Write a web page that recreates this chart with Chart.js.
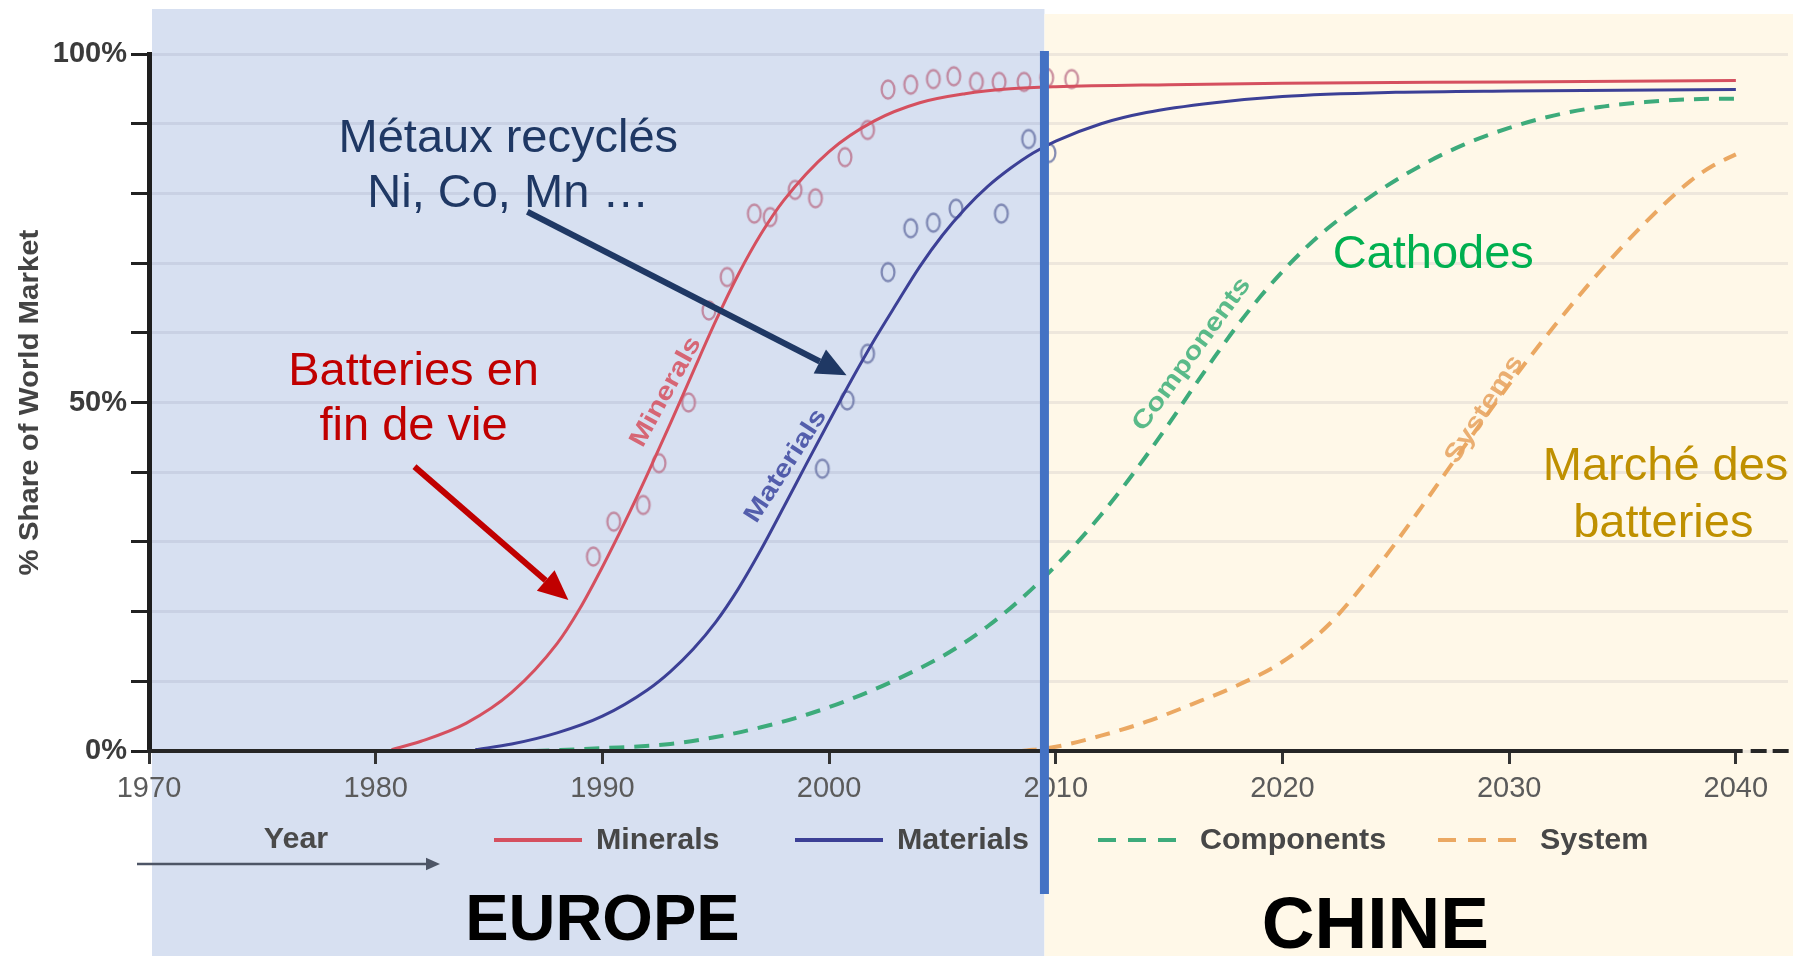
<!DOCTYPE html>
<html>
<head>
<meta charset="utf-8">
<script src="https://cdn.jsdelivr.net/npm/chart.js@4.4.1/dist/chart.umd.min.js"></script>
<style>
  html, body { margin: 0; padding: 0; background: #fff; }
  #wrap { position: relative; width: 1793px; height: 956px; }
</style>
</head>
<body>
<div id="wrap"><canvas id="chart"></canvas></div>
<script>
const FONT = '"Liberation Sans", Arial, Helvetica, sans-serif'

// axis ticks
const yearTicks = [1970, 1980, 1990, 2000, 2010, 2020, 2030, 2040]
const shareTicks = [0, 10, 20, 30, 40, 50, 60, 70, 80, 90, 100]
const shareTickLabels = ['0%', '', '', '', '', '50%', '', '', '', '', '100%']

// S-curves, % share of world market
const mineralsYears = [1980.7, 1982, 1984, 1986, 1988, 1989, 1990, 1991, 1992, 1993, 1994, 1995, 1996, 1997, 1998, 2000, 2002, 2004, 2006, 2008, 2010, 2015, 2020, 2030, 2040]
const mineralsShare = [0.2, 1.4, 4.0, 8.4, 15.4, 20.4, 26.4, 32.9, 39.8, 47.0, 54.4, 61.7, 68.4, 74.2, 79.0, 86.0, 90.4, 93.0, 94.3, 95.0, 95.3, 95.6, 95.8, 96.0, 96.2]

const materialsYears = [1984.4, 1986, 1988, 1990, 1992, 1993, 1994, 1995, 1996, 1997, 1998, 1999, 2000, 2001, 2002, 2003, 2004, 2005, 2006, 2007, 2008, 2009, 2010, 2012, 2014, 2017, 2020, 2025, 2030, 2040]
const materialsShare = [0.2, 1.0, 2.6, 5.0, 8.8, 11.4, 14.6, 18.5, 23.3, 28.9, 35.0, 41.2, 47.3, 53.3, 59.0, 64.3, 69.5, 74.0, 77.8, 81.0, 83.6, 85.8, 87.5, 90.0, 91.6, 93.0, 93.9, 94.5, 94.7, 94.9]

const componentsYears = [1987, 1990, 1993, 1995, 1997, 1999, 2001, 2003, 2005, 2006, 2007, 2008, 2009, 2010, 2011, 2012, 2013, 2014, 2015, 2016, 2017, 2018, 2019, 2020, 2021, 2022, 2024, 2026, 2028, 2030, 2032, 2034, 2036, 2038, 2040]
const componentsShare = [0.0, 0.4, 1.0, 2.0, 3.4, 5.2, 7.5, 10.3, 13.6, 15.6, 17.9, 20.5, 23.4, 26.6, 30.1, 33.9, 38.0, 42.4, 47.0, 51.8, 56.5, 61.0, 65.1, 68.8, 72.1, 75.0, 79.8, 83.8, 87.0, 89.4, 91.2, 92.4, 93.1, 93.5, 93.6]

const systemYears = [2008.5, 2010, 2012, 2014, 2016, 2018, 2020, 2022, 2024, 2026, 2028, 2030, 2032, 2034, 2036, 2038, 2039, 2040]
const systemShare = [0.0, 0.6, 2.2, 4.2, 6.7, 9.4, 12.8, 18.0, 25.6, 34.4, 43.6, 52.6, 61.0, 68.8, 75.8, 81.8, 84.0, 85.6]

// observed points (open circles)
const mineralsObsYears = [1989.6, 1990.5, 1991.8, 1992.5, 1993.8, 1994.7, 1995.5, 1996.7, 1997.4, 1998.5, 1999.4, 2000.7, 2001.7, 2002.6, 2003.6, 2004.6, 2005.5, 2006.5, 2007.5, 2008.6, 2009.6, 2010.7]
const mineralsObsShare = [27.9, 32.9, 35.3, 41.3, 50.0, 63.2, 68.0, 77.1, 76.6, 80.5, 79.3, 85.2, 89.1, 94.9, 95.6, 96.4, 96.8, 96.0, 96.0, 96.0, 96.6, 96.4]

const materialsObsYears = [1999.7, 2000.8, 2001.7, 2002.6, 2003.6, 2004.6, 2005.6, 2007.6, 2008.8, 2009.7]
const materialsObsShare = [40.5, 50.3, 57.0, 68.7, 75.0, 75.8, 77.8, 77.1, 87.8, 85.8]

const splitYear = 2009.5

const pts = (xs, ys) => xs.map((x, i) => ({ x, y: ys[i] }))

function ring(color) {
  const c = document.createElement('canvas')
  c.width = 18
  c.height = 23
  const g = c.getContext('2d')
  g.strokeStyle = color
  g.lineWidth = 2.3
  g.beginPath()
  g.ellipse(9, 11.5, 6.4, 9, 0, 0, Math.PI * 2)
  g.stroke()
  return c
}

function arrow(ctx, x1, y1, x2, y2, color, width, head) {
  const a = Math.atan2(y2 - y1, x2 - x1)
  const bx = x2 - head * Math.cos(a)
  const by = y2 - head * Math.sin(a)
  ctx.strokeStyle = color
  ctx.lineWidth = width
  ctx.beginPath()
  ctx.moveTo(x1, y1)
  ctx.lineTo(bx, by)
  ctx.stroke()
  ctx.fillStyle = color
  ctx.beginPath()
  ctx.moveTo(x2, y2)
  ctx.lineTo(bx + head * 0.45 * Math.sin(a), by - head * 0.45 * Math.cos(a))
  ctx.lineTo(bx - head * 0.45 * Math.sin(a), by + head * 0.45 * Math.cos(a))
  ctx.closePath()
  ctx.fill()
}

function label(ctx, str, x, y, font, color, align = 'center', angle = 0, baseline = 'alphabetic', stretch = 1) {
  ctx.save()
  ctx.translate(x, y)
  ctx.rotate(angle * Math.PI / 180)
  ctx.scale(stretch, 1)
  ctx.font = font
  ctx.fillStyle = color
  ctx.textAlign = align
  ctx.textBaseline = baseline
  ctx.fillText(str, 0, 0)
  ctx.restore()
}

const series = [
  { name: 'Minerals', color: '#D5505F', dash: [] },
  { name: 'Materials', color: '#3C4096', dash: [] },
  { name: 'Components', color: '#3DAB7B', dash: [15, 10] },
  { name: 'System', color: '#EBA862', dash: [15, 10] },
]

const panels = {
  id: 'panels',
  beforeDraw(chart) {
    const { ctx, chartArea, scales: { x } } = chart
    const split = x.getPixelForValue(splitYear)
    ctx.save()
    ctx.fillStyle = '#D7E0F1'
    ctx.fillRect(chartArea.left + 3, 9, split - chartArea.left - 3, chart.height - 9)
    ctx.fillStyle = '#FFF8E8'
    ctx.fillRect(split, 14, chart.width - split, chart.height - 14)
    ctx.restore()
  },
}

const overlay = {
  id: 'overlay',
  afterDraw(chart) {
    const { ctx, chartArea, scales: { x, y } } = chart
    const X = v => x.getPixelForValue(v)
    const Y = v => y.getPixelForValue(v)
    ctx.save()

    // x axis line, dashed past 2040
    ctx.strokeStyle = '#262626'
    ctx.lineWidth = 4
    ctx.beginPath()
    ctx.moveTo(chartArea.left - 2, Y(0))
    ctx.lineTo(X(2040.3), Y(0))
    ctx.stroke()
    ctx.setLineDash([16, 6])
    ctx.beginPath()
    ctx.moveTo(X(2040.3) + 8, Y(0))
    ctx.lineTo(chart.width, Y(0))
    ctx.stroke()
    ctx.setLineDash([])

    // split line
    ctx.strokeStyle = '#4472C4'
    ctx.lineWidth = 9
    ctx.beginPath()
    ctx.moveTo(X(splitYear), 51)
    ctx.lineTo(X(splitYear), 894)
    ctx.stroke()

    // y title
    label(ctx, '% Share of World Market', 30, (chartArea.top + chartArea.bottom) / 2,
      `bold 28px ${FONT}`, '#444', 'center', -90, 'middle', 1.05)

    // curve labels
    const cl = `bold 25px ${FONT}`
    label(ctx, 'Minerals', X(1992.8), Y(51.5), cl, 'rgba(214,80,95,0.85)', 'center', -61, 'middle', 1.2)
    label(ctx, 'Materials', X(1998.1), Y(40.9), cl, 'rgba(60,70,160,0.85)', 'center', -57, 'middle', 1.2)
    label(ctx, 'Components', X(2016.0), Y(56.9), cl, 'rgba(61,175,120,0.85)', 'center', -54, 'middle', 1.2)
    label(ctx, 'Systems', X(2028.9), Y(49.0), cl, 'rgba(232,165,100,0.9)', 'center', -57, 'middle', 1.2)

    // annotations
    const af = `47px ${FONT}`
    label(ctx, 'Métaux recyclés', X(1985.85), Y(86.0), af, '#1F3864')
    label(ctx, 'Ni, Co, Mn …', X(1985.85), Y(78.0), af, '#1F3864')
    label(ctx, 'Batteries en', X(1981.67), Y(52.5), af, '#C00000')
    label(ctx, 'fin de vie', X(1981.67), Y(44.6), af, '#C00000')
    label(ctx, 'Cathodes', X(2026.65), Y(69.3), af, '#00B050')
    label(ctx, 'Marché des', X(2036.9), Y(38.9), af, '#BF9000')
    label(ctx, 'batteries', X(2036.8), Y(30.7), af, '#BF9000')

    arrow(ctx, X(1986.69), Y(77.37), X(2000.77), Y(53.92), '#1F3864', 6, 30)
    arrow(ctx, X(1981.71), Y(40.8), X(1988.5), Y(21.65), '#C00000', 6, 30)

    // legend row
    const ly = 840
    const lf = `bold 29px ${FONT}`
    label(ctx, 'Year', 296, ly, lf, '#4a4a4a', 'center', 0, 'middle', 1.05)
    arrow(ctx, 137, 864, 440, 864, '#4d5566', 2.5, 14)
    const slots = [494, 795, 1098, 1438]
    series.forEach((s, i) => {
      ctx.strokeStyle = s.color
      ctx.lineWidth = 4
      ctx.setLineDash(s.dash.length ? [18, 12] : [])
      ctx.beginPath()
      ctx.moveTo(slots[i], ly)
      ctx.lineTo(slots[i] + 88, ly)
      ctx.stroke()
      ctx.setLineDash([])
      label(ctx, s.name, slots[i] + 102, ly + 1, lf, '#474747', 'left', 0, 'middle', 1.05)
    })

    // regions
    label(ctx, 'EUROPE', X(1990.0), 940, `bold 65px ${FONT}`, '#000')
    label(ctx, 'CHINE', X(2024.1), 948, `bold 73px ${FONT}`, '#000')

    ctx.restore()
  },
}

new Chart(document.getElementById('chart'), {
  type: 'line',
  data: {
    datasets: [
      {
        label: 'Minerals', data: pts(mineralsYears, mineralsShare),
        borderColor: series[0].color, borderWidth: 3, pointRadius: 0, cubicInterpolationMode: 'monotone',
      },
      {
        label: 'Materials', data: pts(materialsYears, materialsShare),
        borderColor: series[1].color, borderWidth: 3, pointRadius: 0, cubicInterpolationMode: 'monotone',
      },
      {
        label: 'Components', data: pts(componentsYears, componentsShare),
        borderColor: series[2].color, borderWidth: 4, borderDash: series[2].dash, pointRadius: 0, cubicInterpolationMode: 'monotone',
      },
      {
        label: 'System', data: pts(systemYears, systemShare),
        borderColor: series[3].color, borderWidth: 4, borderDash: series[3].dash, pointRadius: 0, cubicInterpolationMode: 'monotone',
      },
      {
        label: 'Minerals data', data: pts(mineralsObsYears, mineralsObsShare), showLine: false,
        pointStyle: ring('rgba(185,110,135,0.75)'),
      },
      {
        label: 'Materials data', data: pts(materialsObsYears, materialsObsShare), showLine: false,
        pointStyle: ring('rgba(105,115,165,0.8)'),
      },
    ],
  },
  options: {
    responsive: true,
    maintainAspectRatio: false,
    animation: false,
    layout: { padding: { top: 54, left: 0, right: 0, bottom: 0 } },
    plugins: { legend: { display: false }, tooltip: { enabled: false } },
    scales: {
      x: {
        type: 'linear',
        min: 1970,
        max: 2042.3,
        afterBuildTicks: (s) => { s.ticks = yearTicks.map((value) => ({ value })) },
        afterFit: (s) => { s.height = 205 },
        grid: { drawOnChartArea: false, drawTicks: true, tickLength: 13, tickColor: '#333', tickWidth: 3 },
        border: { display: false },
        ticks: {
          autoSkip: false, maxRotation: 0, padding: 8, color: '#5b5b5b',
          font: { family: FONT, size: 29 },
          callback: (v) => String(v),
        },
      },
      y: {
        min: 0,
        max: 100,
        afterBuildTicks: (s) => { s.ticks = shareTicks.map((value) => ({ value })) },
        afterFit: (s) => { s.width = 149 },
        grid: { color: 'rgba(70,70,100,0.09)', lineWidth: 3, tickLength: 18, tickColor: '#222', tickWidth: 3 },
        border: { color: '#1e1e1e', width: 5 },
        ticks: {
          padding: 4, color: '#3b3b3b',
          font: { family: FONT, size: 29, weight: 'bold' },
          callback: (v, i) => shareTickLabels[i],
        },
      },
    },
  },
  plugins: [panels, overlay],
})
</script>
</body>
</html>
